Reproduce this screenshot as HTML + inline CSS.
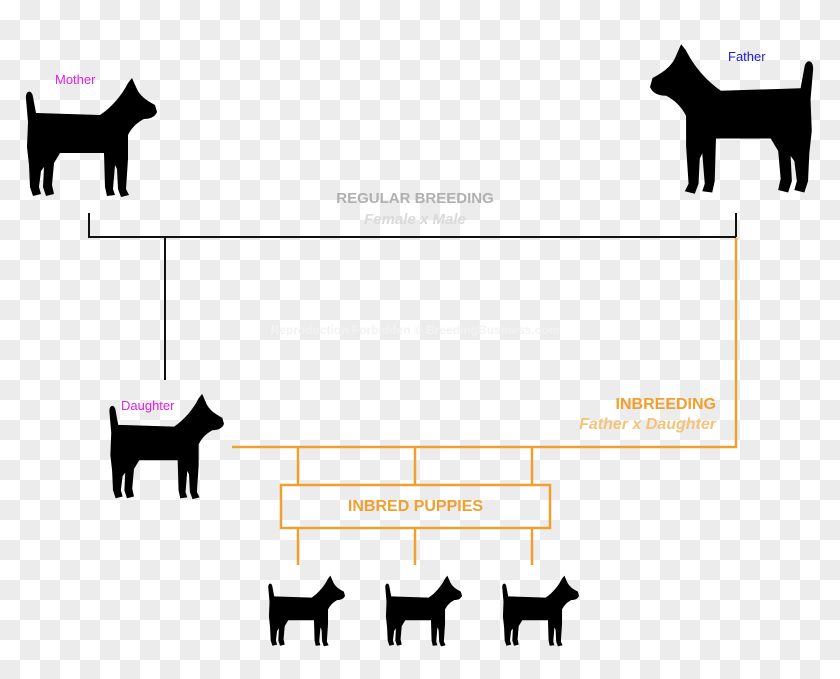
<!DOCTYPE html>
<html><head><style>
body{margin:0;}
.c{position:relative;width:840px;height:679px;overflow:hidden;font-family:"Liberation Sans",sans-serif;
background-color:#fff;background-image:linear-gradient(45deg,#ececec 25%,transparent 25%,transparent 75%,#ececec 75%),linear-gradient(45deg,#ececec 25%,transparent 25%,transparent 75%,#ececec 75%);background-size:40px 40px;background-position:0 0,20px 20px;}
.t{position:absolute;white-space:nowrap;}
svg{position:absolute;left:0;top:0;}
</style></head><body><div class="c">
<svg width="840" height="679">
<defs>
<symbol id="dog" viewBox="0 0 135 121" preserveAspectRatio="none">
<path fill="#000" d="M4,22 C3,13 10,12 11,20 L14,36 L78,38 C90,30 100,18 106,6 L110,1 L114,10 C118,20 126,24 133,28 L135,35 C133,40 128,42 122,42 C116,45 110,50 106,58 L106,82 L104,112 L107,118 L99,120 L96,112 L95,92 L93,88 L91,112 L93,118 L85,119 L83,110 L82,76 L38,76 L32,86 L30,108 L32,117 L24,119 L21,110 L22,90 L19,94 L17,110 L19,117 L11,119 L8,110 L7,88 L5,70 L6,45 Z"/>
</symbol>
</defs>
<use href="#dog" x="22" y="77" width="135" height="121"/>
<g transform="translate(818,43) scale(-1,1)"><use href="#dog" x="0" y="0" width="168" height="152"/></g>
<use href="#dog" x="106" y="393" width="118" height="107"/>
<use href="#dog" x="266" y="575" width="79" height="72"/>
<use href="#dog" x="383" y="575" width="79" height="72"/>
<use href="#dog" x="500" y="575" width="79" height="72"/>
<g stroke="#111" stroke-width="2" fill="none">
<path d="M89,213 V237 H736 M736,213 V237 M165,237 V380"/>
</g>
<g stroke="#f0a030" stroke-width="2.5" fill="none">
<path d="M736,238 V447 H232 M298,447 V485 M415,447 V485 M532,447 V485 M298,528 V565 M415,528 V565 M532,528 V565"/>
<rect x="281" y="485" width="269" height="43"/>
</g>
</svg>
<div class="t" style="left:55px;top:72px;font-size:13px;color:#e020e0">Mother</div>
<div class="t" style="left:728px;top:49px;font-size:13px;color:#2020cc">Father</div>
<div class="t" style="left:121px;top:398px;font-size:13px;color:#e020e0">Daughter</div>
<div class="t" style="left:265px;top:190px;width:300px;text-align:center;font-size:15px;font-weight:bold;color:#b0b0b0">REGULAR BREEDING</div>
<div class="t" style="left:265px;top:211px;width:300px;text-align:center;font-size:15px;font-weight:bold;font-style:italic;color:#dadada">Female x Male</div>
<div class="t" style="left:265px;top:323px;width:300px;text-align:center;font-size:12px;font-weight:bold;color:#f2f2f2">Reproduction Forbidden © BreedingBusiness.com</div>
<div class="t" style="left:516px;top:396px;width:200px;text-align:right;font-size:16px;font-weight:bold;color:#f0a030">INBREEDING</div>
<div class="t" style="left:516px;top:416px;width:200px;text-align:right;font-size:16px;font-weight:bold;font-style:italic;color:#f5c27a">Father x Daughter</div>
<div class="t" style="left:281px;top:498px;width:269px;text-align:center;font-size:16px;font-weight:bold;color:#f0a030">INBRED PUPPIES</div>
</div></body></html>
